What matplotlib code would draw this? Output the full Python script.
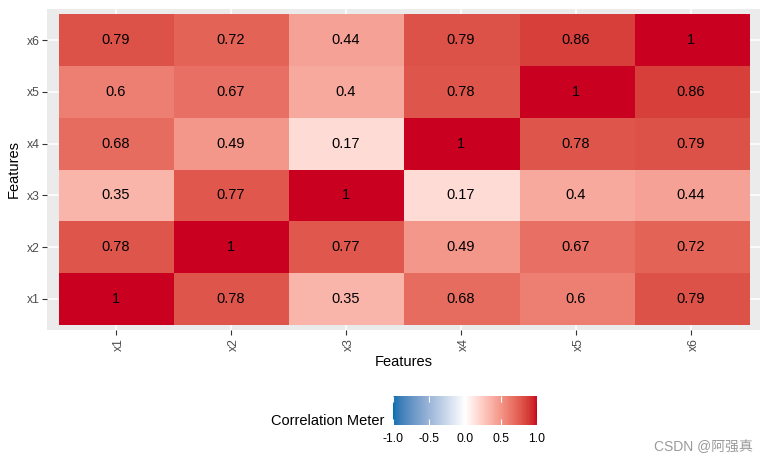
import numpy as np
import matplotlib
matplotlib.use("Agg")
import matplotlib.pyplot as plt
import matplotlib.transforms as mtransforms
from matplotlib.colors import ListedColormap

plt.rcParams['font.family'] = ['Liberation Sans', 'DejaVu Sans']
plt.rcParams['axes.unicode_minus'] = False

features = ['x1', 'x2', 'x3', 'x4', 'x5', 'x6']
corr_x1 = [1, 0.78, 0.35, 0.68, 0.6, 0.79]
corr_x2 = [0.78, 1, 0.77, 0.49, 0.67, 0.72]
corr_x3 = [0.35, 0.77, 1, 0.17, 0.4, 0.44]
corr_x4 = [0.68, 0.49, 0.17, 1, 0.78, 0.79]
corr_x5 = [0.6, 0.67, 0.4, 0.78, 1, 0.86]
corr_x6 = [0.79, 0.72, 0.44, 0.79, 0.86, 1]
bar_ticks = [-1.0, -0.5, 0.0, 0.5, 1.0]

mat = np.array([corr_x1, corr_x2, corr_x3, corr_x4, corr_x5, corr_x6])


# gradient2 style colour scale, interpolated in Lab space like ggplot
def hex_rgb(h):
    h = h.lstrip('#')
    return np.array([int(h[i:i + 2], 16) / 255 for i in (0, 2, 4)])


def rgb2lab(c):
    c = np.where(c > 0.04045, ((c + 0.055) / 1.055) ** 2.4, c / 12.92)
    m = np.array([[0.4124, 0.3576, 0.1805],
                  [0.2126, 0.7152, 0.0722],
                  [0.0193, 0.1192, 0.9505]])
    xyz = m @ c / np.array([0.95047, 1.0, 1.08883])
    f = np.where(xyz > 0.008856, np.cbrt(xyz), 7.787 * xyz + 16 / 116)
    return np.array([116 * f[1] - 16, 500 * (f[0] - f[1]), 200 * (f[1] - f[2])])


def lab2rgb(lab):
    fy = (lab[0] + 16) / 116
    fx = fy + lab[1] / 500
    fz = fy - lab[2] / 200
    f = np.array([fx, fy, fz])
    xyz = np.where(f ** 3 > 0.008856, f ** 3, (f - 16 / 116) / 7.787)
    xyz = xyz * np.array([0.95047, 1.0, 1.08883])
    minv = np.array([[3.2406, -1.5372, -0.4986],
                     [-0.9689, 1.8758, 0.0415],
                     [0.0557, -0.2040, 1.0570]])
    c = minv @ xyz
    c = np.where(c > 0.0031308, 1.055 * np.abs(c) ** (1 / 2.4) - 0.055, 12.92 * c)
    return np.clip(c, 0, 1)


low, mid, high = rgb2lab(hex_rgb('#0571B0')), rgb2lab(hex_rgb('#FFFFFF')), rgb2lab(hex_rgb('#CA0020'))
cols = []
for t in np.linspace(-1, 1, 256):
    if t < 0:
        lab = mid + (low - mid) * (-t)
    else:
        lab = mid + (high - mid) * t
    cols.append(lab2rgb(lab))
cmap = ListedColormap(cols)

fig = plt.figure(figsize=(7.7, 4.63), dpi=100)
ax = fig.add_axes([47 / 770, 1 - 330 / 463, 713 / 770, 321 / 463])
ax.set_facecolor('#EBEBEB')

n = len(features)
pos = np.arange(1, n + 1)
for p in pos:
    ax.axvline(p, color='white', lw=1.1, zorder=0)
    ax.axhline(p, color='white', lw=1.1, zorder=0)

im = ax.imshow(mat, cmap=cmap, vmin=-1, vmax=1, origin='lower',
               extent=(0.5, n + 0.5, 0.5, n + 0.5), aspect='auto',
               interpolation='nearest', zorder=1)
for i in range(n):
    for j in range(n):
        ax.text(pos[j], pos[i], f"{mat[i, j]:g}", ha='center', va='center',
                fontsize=10.5, color='black', zorder=2)

ax.set_xlim(0.4, n + 0.6)
ax.set_ylim(0.4, n + 0.6)
ax.set_xticks(pos)
ax.set_yticks(pos)
ax.set_xticklabels(features, rotation=90)
ax.set_yticklabels(features)
ax.tick_params(length=3.5, width=0.8, color='#333333', labelcolor='#4D4D4D',
               labelsize=8.8, pad=2)
# rotated labels sit a little right of their ticks in the original
shift = mtransforms.ScaledTranslation(3 / 100, 0, fig.dpi_scale_trans)
for lab in ax.get_xticklabels():
    lab.set_transform(lab.get_transform() + shift)
for s in ax.spines.values():
    s.set_visible(False)
ax.set_xlabel('Features', fontsize=10.5, labelpad=3)
ax.set_ylabel('Features', fontsize=10.5, labelpad=4)

cax = fig.add_axes([393 / 770, 1 - 424.5 / 463, 144 / 770, 28.5 / 463])
cb = fig.colorbar(im, cax=cax, orientation='horizontal', ticks=bar_ticks)
cb.outline.set_visible(False)
cb.set_ticklabels([f"{v:.1f}" for v in bar_ticks])
cax.tick_params(axis='x', direction='in', top=True, bottom=True, length=4,
                color='white', width=0.8, labelsize=8.8, labelcolor='black', pad=6)
fig.text(384 / 770, 1 - 421 / 463, 'Correlation Meter', ha='right', va='center',
         fontsize=10.5)

fig.text(753 / 770, 1 - 447 / 463, 'CSDN @阿强真', ha='right', va='center',
         fontsize=10, color='#9A9A9A',
         family=['Liberation Sans', 'Noto Sans CJK SC'])

fig.savefig('out.png', dpi=100)
